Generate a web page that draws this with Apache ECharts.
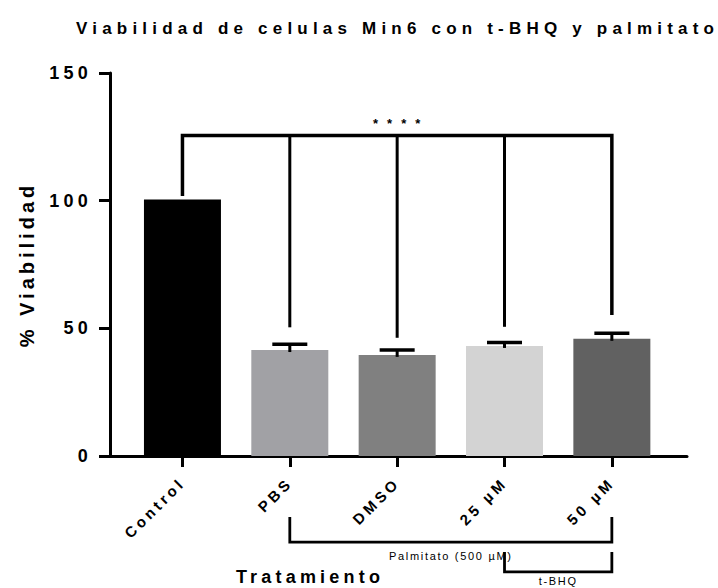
<!DOCTYPE html>
<html>
<head>
<meta charset="utf-8">
<script src="https://cdn.jsdelivr.net/npm/echarts@6/dist/echarts.min.js"></script>
<style>
  html, body { margin: 0; padding: 0; background: #ffffff; }
  #chart { width: 718px; height: 588px; }
</style>
</head>
<body>
<div id="chart"></div>
<script>
// ---------- data ----------
const titleText = 'Viabilidad de celulas Min6 con t-BHQ y palmitato';
const yAxisTitle = '% Viabilidad';
const xAxisTitle = 'Tratamiento';
const categories = ['Control', 'PBS', 'DMSO', '25 µM', '50 µM'];
const viability = [100.5, 41.5, 39.6, 43.1, 45.9];
const errorSD = [0, 2.3, 1.9, 1.4, 2.2];
const yTicks = [0, 50, 100, 150];
const sigLabel = '****';
const sigBarLevel = 125.5;
const sigDropEnds = [101.8, 50.4, 46.3, 50.6, 55.2];
const groupLabels = ['Palmitato (500 µM)', 't-BHQ'];
const groupFrom = [1, 3];
const groupTo = [4, 4];

// ---------- styles ----------
const FONT = 'Liberation Sans, Arial, sans-serif';
const barColors = ['#000000', '#a1a1a5', '#808080', '#d3d3d3', '#616161'];
const groupGeom = [
  { top: -23.9, bottom: -33.7, labelY: -39.0 },
  { top: -37.6, bottom: -45.4, labelY: -49.0 }
];
const spacingBySize = { 17: 5.2, 18: 4.2, 20: 4.0, 15: 3.6, 13: 9.0, 11: 1.7 };

const chart = echarts.init(document.getElementById('chart'), null, { renderer: 'svg' });

const option = {
  backgroundColor: '#ffffff',
  animation: false,
  title: {
    text: titleText,
    left: 76,
    top: 20,
    padding: 0,
    textStyle: { fontFamily: FONT, fontSize: 17, fontWeight: 'bold', color: '#000', lineHeight: 17 }
  },
  grid: { left: 110, right: 31, top: 73, bottom: 132, containLabel: false },
  xAxis: {
    type: 'value',
    min: -0.675,
    max: 4.7,
    splitLine: { show: false },
    axisLine: { show: true, onZero: false, lineStyle: { color: '#000', width: 3 } },
    axisTick: { show: true, customValues: categories.map((c, i) => i), length: 11, lineStyle: { color: '#000', width: 3 } },
    axisLabel: {
      customValues: categories.map((c, i) => i),
      formatter: v => categories[Math.round(v)] || '',
      rotate: 45,
      margin: 24,
      fontFamily: FONT, fontSize: 15, fontWeight: 'bold', color: '#000'
    }
  },
  yAxis: {
    type: 'value',
    min: yTicks[0],
    max: yTicks[yTicks.length - 1],
    interval: yTicks[1] - yTicks[0],
    name: yAxisTitle,
    nameLocation: 'middle',
    nameRotate: 90,
    nameGap: 73,
    nameTextStyle: { fontFamily: FONT, fontSize: 20, fontWeight: 'bold', color: '#000' },
    splitLine: { show: false },
    axisLine: { show: true, onZero: false, lineStyle: { color: '#000', width: 3 } },
    axisTick: { show: true, length: 11, lineStyle: { color: '#000', width: 3 } },
    axisLabel: { margin: 18, padding: [5, 0, 0, 0], fontFamily: FONT, fontSize: 18, fontWeight: 'bold', color: '#000' }
  },
  graphic: [{
    type: 'text',
    x: 310, y: 577,
    style: { text: xAxisTitle, fontFamily: FONT, fontSize: 18, fontWeight: 'bold', fill: '#000', textAlign: 'center', textVerticalAlign: 'middle' }
  }],
  series: [
    {
      type: 'bar',
      barWidth: 77,
      data: viability.map((v, i) => ({ value: [i, v], itemStyle: { color: barColors[i] } })),
      z: 2
    },
    {
      type: 'custom',
      z: 3,
      data: viability.map((v, i) => [i, v, errorSD[i]]),
      renderItem: function (params, api) {
        const i = api.value(0), v = api.value(1), e = api.value(2);
        if (!e) return { type: 'group', children: [] };
        const base = api.coord([i, v]);
        const top = api.coord([i, v + e]);
        return {
          type: 'group',
          children: [
            { type: 'line', shape: { x1: base[0], y1: base[1] + 2, x2: top[0], y2: top[1] }, style: { stroke: '#000', lineWidth: 3 } },
            { type: 'line', shape: { x1: top[0] - 17.5, y1: top[1], x2: top[0] + 17.5, y2: top[1] }, style: { stroke: '#000', lineWidth: 3.5 } }
          ]
        };
      }
    },
    {
      type: 'custom',
      z: 4,
      clip: false,
      data: [[0, 0]],
      renderItem: function (params, api) {
        const children = [];
        const last = categories.length - 1;
        const pt = (x, y) => api.coord([x, y]);
        // significance bracket
        children.push({
          type: 'polyline',
          shape: { points: [pt(0, sigDropEnds[0]), pt(0, sigBarLevel), pt(last, sigBarLevel), pt(last, sigDropEnds[last])] },
          style: { stroke: '#000', lineWidth: 3.5, fill: null, lineJoin: 'miter' }
        });
        for (let i = 1; i < last; i++) {
          const a = pt(i, sigBarLevel), b = pt(i, sigDropEnds[i]);
          children.push({ type: 'line', shape: { x1: a[0], y1: a[1], x2: b[0], y2: b[1] }, style: { stroke: '#000', lineWidth: 3 } });
        }
        const s = pt(2, sigBarLevel + 4.6);
        children.push({ type: 'text', x: s[0] + 4, y: s[1], style: { text: sigLabel, fontFamily: FONT, fontSize: 13, fontWeight: 'bold', fill: '#000', textAlign: 'center', textVerticalAlign: 'middle' } });
        // group brackets below axis
        groupLabels.forEach((lab, k) => {
          const g = groupGeom[k];
          children.push({
            type: 'polyline',
            shape: { points: [pt(groupFrom[k], g.top), pt(groupFrom[k], g.bottom), pt(groupTo[k], g.bottom), pt(groupTo[k], g.top)] },
            style: { stroke: '#000', lineWidth: 2.8, fill: null, lineJoin: 'miter' }
          });
          const c = pt((groupFrom[k] + groupTo[k]) / 2, g.labelY);
          children.push({ type: 'text', x: c[0], y: c[1], style: { text: lab, fontFamily: FONT, fontSize: 11, fill: '#000', textAlign: 'center', textVerticalAlign: 'middle' } });
        });
        return { type: 'group', children: children };
      }
    }
  ]
};

chart.setOption(option);

function applySpacing() {
  document.querySelectorAll('#chart text').forEach(t => {
    const fs = Math.round(parseFloat(getComputedStyle(t).fontSize));
    const sp = spacingBySize[fs];
    if (sp != null) t.style.letterSpacing = sp + 'px';
  });
}
chart.on('finished', applySpacing);
applySpacing();
setTimeout(applySpacing, 0);
setTimeout(applySpacing, 200);
</script>
</body>
</html>
